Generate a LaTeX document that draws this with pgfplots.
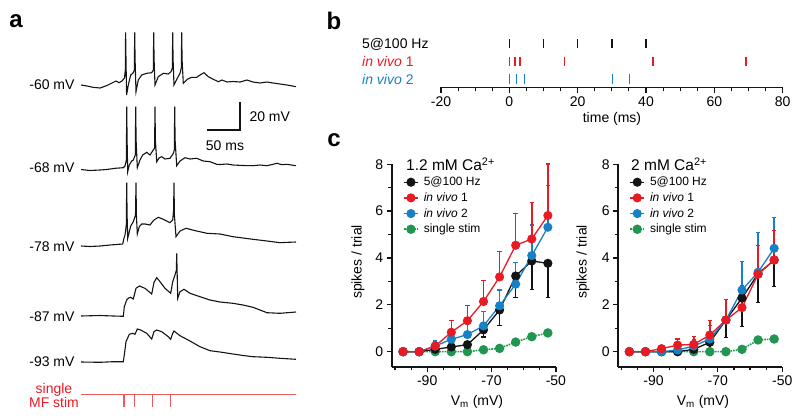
\documentclass[border=0pt]{standalone}
\usepackage{pgfplots}
\pgfplotsset{compat=1.18}
\usepackage{fontspec}
\setmainfont{Liberation Sans}
\definecolor{cred}{RGB}{232,26,36}
\definecolor{cblue}{RGB}{24,128,196}
\definecolor{cgreen}{RGB}{32,150,80}
\definecolor{cblk}{RGB}{20,20,20}
\definecolor{stimred}{RGB}{238,90,90}
\newcommand{\fA}{\fontsize{14bp}{16bp}\selectfont}
\newcommand{\fL}{\fontsize{12bp}{14bp}\selectfont}
\newcommand{\fT}{\fontsize{15.5bp}{17bp}\selectfont}
\newcommand{\fP}{\fontsize{24bp}{26bp}\selectfont\bfseries}
\pgfplotsset{
  cstyle/.style={scale only axis, width=164.1bp, height=202.7bp,
    xmin=-101, xmax=-50, ymin=-0.65, ymax=8,
    axis x line*=bottom, axis y line*=left,
    axis line style={-, line width=1.4bp, cblk},
    xtick={-90,-70,-50}, xticklabels={-90,-70,-50},
    minor xtick={-100,-95,-85,-80,-75,-65,-60,-55},
    ytick={0,2,4,6,8}, yticklabels={0,2,4,6,8}, minor ytick={1,3,5,7},
    tick align=outside, major tick length=5bp, minor tick length=3.5bp,
    tick style={line width=1.2bp, cblk},
    tick label style={font=\fA},
    clip=false,
    legend style={draw=none, fill=none, at={(axis description cs:0.068,0.947)}, anchor=north west,
      font=\fL, row sep=1.5bp, column sep=3bp, inner sep=0pt, cells={anchor=west}},
    legend image code/.code={\draw[mark repeat=2,mark phase=2,##1] plot coordinates {(0bp,0bp)(7bp,0bp)(14bp,0bp)};},
  },
  sblk/.style={cblk, line width=1.3bp, mark=*, mark size=3.9bp},
  sred/.style={cred, line width=1.3bp, mark=*, mark size=3.9bp},
  sblue/.style={cblue, line width=1.3bp, mark=*, mark size=3.9bp},
  sgreen/.style={cgreen, densely dotted, line width=1.6bp, mark=*, mark size=3.9bp, mark options={solid}},
  ebar/.style={error bars/.cd, y dir=#1, y explicit, error bar style={line width=1.6bp, solid}, error mark options={line width=1.3bp, mark size=2.2bp, rotate=90}},
}
\begin{document}
\begin{tikzpicture}[x=1bp,y=1bp]
\path[use as bounding box] (0bp,0bp) rectangle (800bp,420bp);
% ---------- frame axis: panel a traces and all annotations ----------
\begin{axis}[at={(0bp,0bp)}, anchor=south west, scale only axis, width=800bp, height=420bp,
  xmin=0, xmax=800, ymin=0, ymax=420, y dir=reverse, hide axis, clip=false]
\addplot[cblk, line width=1.1bp] coordinates {(81,85)(87,86)(93,87.3)(100,88)(107,85.5)(113,82.5)(116,81)(119,82.7)(122,81)(124.5,78)(125.3,70)(125.6,32.3)(126,60)(126.6,95)(128.3,85)(130.7,75)(133.3,72.7)(134.3,70)(134.7,32.3)(135.1,60)(136,91.7)(138.3,80)(141.7,75)(146.7,73.3)(151.7,72.7)(153.3,70)(153.7,32.3)(154.1,60)(155,85)(158.3,76.7)(163.3,73.3)(168.3,74)(171,71.7)(172.3,68)(172.7,32.3)(173.1,60)(174,85)(177.3,78.3)(180,73.3)(181.3,68)(181.7,32.3)(182.1,60)(183.3,83.3)(187.3,79.3)(191.7,77.3)(196.7,77.3)(200,75)(204,72.7)(208.3,76.7)(213.3,79.3)(218.3,81.7)(222,80)(227,82)(233,81.5)(240,82)(247,80)(253,82)(260,83)(267,82)(273,83)(280,84)(287,85)(296,86.7)};
\addplot[cblk, line width=1.1bp] coordinates {(81,169.5)(90,170.5)(100,170)(106.7,169.5)(115,168.3)(123.3,167.7)(125,166)(126.4,160)(126.7,106.7)(127.1,140)(127.7,171.7)(129.3,165)(131.7,161)(133.3,160)(135.3,155)(135.7,106.7)(136.1,140)(137.3,167.7)(140,160)(142.7,155)(146.7,152.3)(150,155)(153.3,150)(154.6,148)(155,106.7)(155.4,140)(156.7,161.7)(159.3,157.7)(161.7,156.7)(165,159)(170,158.3)(173.3,153.3)(174.3,150)(174.7,106.7)(175.1,140)(176.7,165.7)(180,161)(185,157.7)(190,159)(196.7,158.3)(203.3,161)(210,161.7)(216.7,164.3)(220,164.5)(227,164)(233,165)(243,165.5)(253,165.7)(260,165)(267,165.7)(273,164.3)(277,163.3)(282,164.7)(287,164.3)(296,165.7)};
\addplot[cblk, line width=1.1bp] coordinates {(81,246)(90,246.5)(100,246)(110,245)(122.7,244)(124,238)(125,235)(126.3,225)(126.7,182.7)(127.1,215)(127.7,238.3)(130.7,226)(133.3,221.7)(135.5,215)(136,182.7)(136.4,215)(137.3,234)(139.3,226.7)(141.7,224)(145,224)(150,225)(153.3,220.7)(155,219.3)(158.3,217.3)(163.3,219.3)(170,222.7)(172.7,220)(173.6,210)(174,182.7)(174.4,215)(176,236.7)(180,231)(186,228.3)(196.7,231)(207,233.3)(220,234)(233,236.7)(243,238)(253,239.3)(267,241)(280,242.7)(288,242.3)(296,242)};
\addplot[cblk, line width=1.1bp] coordinates {(81,316)(100,315.5)(113.3,316)(123.3,316.3)(124,310)(124.3,306.7)(126.7,300)(128.5,298)(130.7,297.3)(133.3,299)(136,288.3)(139.3,286)(145,288.3)(151.7,294)(154,282.3)(156.7,277.7)(160,281.7)(165,288.3)(170.7,293.3)(172.7,281.7)(175,275)(176.4,270)(176.7,253.3)(177.1,270)(177.7,298.3)(180,291.7)(184,289.3)(190,293.3)(200,296.7)(210,300)(220,302)(233,303.3)(243,305)(253,307.3)(260,310)(267,312.7)(280,313.3)(296,312)};
\addplot[cblk, line width=1.1bp] coordinates {(81,362)(100,362.3)(113.3,361.7)(123.3,361.7)(124.3,355)(126,341.7)(129.3,334.3)(132.7,333.3)(135,334.3)(137.3,329)(140.7,330)(146.7,333.3)(151.7,339)(154,331.7)(156.7,330)(161.7,331.7)(168.3,336.7)(170.7,339.3)(172.7,333.3)(174,331)(180,335.7)(190,341)(200,346.7)(210,350.7)(220,352)(233,354)(243,355.5)(253,356.7)(267,357.3)(280,358.3)(296,359.3)};
% stimulus line
\addplot[stimred, line width=0.9bp] coordinates {(81,394.5)(296,394.5)};
\addplot[stimred, line width=0.9bp] coordinates {(123.6,394.5)(123.6,407)};
\addplot[stimred, line width=0.9bp] coordinates {(124.8,394.5)(124.8,407)};
\addplot[stimred, line width=0.9bp] coordinates {(134.2,394.5)(134.2,407)};
\addplot[stimred, line width=0.9bp] coordinates {(152.3,394.5)(152.3,407)};
\addplot[stimred, line width=0.9bp] coordinates {(170.8,394.5)(170.8,407)};
% scale bar
\addplot[cblk, line width=1.2bp] coordinates {(207,130)(240,130)(240,102)};
\node[anchor=west, font=\fA] at (246,117) {20 mV};
\node[font=\fA] at (225,146) {50 ms};
% panel a labels
\node[anchor=east, font=\fA] at (78,85) {-60 mV};
\node[anchor=east, font=\fA] at (78,168) {-68 mV};
\node[anchor=east, font=\fA] at (78,246.5) {-78 mV};
\node[anchor=east, font=\fA] at (78,317) {-87 mV};
\node[anchor=east, font=\fA] at (78,362) {-93 mV};
\node[font=\fA, text=cred, align=center, inner sep=0pt] at (54,395.5) {single\\[-1.5bp]MF stim};
% panel letters
\node[font=\fP] at (16,21) {a};
\node[font=\fP] at (334,21) {b};
\node[font=\fP] at (334,140) {c};
% panel b labels
\node[anchor=west, font=\fA, inner sep=0pt] at (362,44) {5@100 Hz};
\node[anchor=west, font=\fA, inner sep=0pt, text=cred] at (362,61.5) {\textit{in vivo} 1};
\node[anchor=west, font=\fA, inner sep=0pt, text=cblue] at (362,79) {\textit{in vivo} 2};
\node[font=\fA] at (612,119) {time (ms)};
% panel c labels
\node[anchor=west, font=\fT, inner sep=0pt] at (406,164) {1.2 mM Ca\textsuperscript{2+}};
\node[anchor=west, font=\fT, inner sep=0pt] at (631,164) {2 mM Ca\textsuperscript{2+}};
\node[rotate=90, font=\fA] at (358,262) {spikes / trial};
\node[rotate=90, font=\fA] at (583,262) {spikes / trial};
\node[font=\fA] at (477,402) {V\textsubscript{m} (mV)};
\node[font=\fA] at (703,402) {V\textsubscript{m} (mV)};
\end{axis}
% ---------- panel b ----------
\begin{axis}[at={(441bp,332.7bp)}, anchor=south west, scale only axis, width=341.7bp, height=50bp,
  xmin=-20, xmax=80, ymin=0, ymax=50, axis x line=bottom, axis y line=none,
  axis line style={-, line width=1.3bp, cblk},
  xtick={-20,0,20,40,60,80}, xticklabels={-20,0,20,40,60,80}, minor x tick num=3,
  tick align=outside, major tick length=6bp, minor tick length=4bp,
  tick style={line width=1.1bp, cblk}, tick label style={font=\fA}, clip=false]
\addplot[only marks, mark=|, mark size=4.6bp, cblk, mark options={line width=1.4bp}] coordinates {(0,43.5)(10,43.5)(20,43.5)(30,43.5)(40,43.5)};
\addplot[only marks, mark=|, mark size=4.6bp, cred, mark options={line width=1.4bp}] coordinates {(0,26)(1.6,26)(3.1,26)(16.2,26)(42,26)(69.3,26)};
\addplot[only marks, mark=|, mark size=5bp, cblue, mark options={line width=1.4bp}] coordinates {(0,8.5)(2.1,8.5)(4.5,8.5)(30.2,8.5)(35.1,8.5)};
\end{axis}
% ---------- panel c left ----------
\begin{axis}[cstyle, at={(391.8bp,53.1bp)}, anchor=south west]
\addlegendimage{sblk}\addlegendentry{5@100 Hz}
\addlegendimage{sred}\addlegendentry{\textit{in vivo} 1}
\addlegendimage{sblue}\addlegendentry{\textit{in vivo} 2}
\addlegendimage{sgreen}\addlegendentry{single stim}
\addplot[sgreen, forget plot] table {
x y
-97.5 0
-92.5 0
-87.5 0
-82.5 0
-77.5 0
-72.5 0.08
-67.5 0.14
-62.5 0.41
-57.5 0.64
-52.5 0.8
};
\addplot[sblk, forget plot, ebar=minus] table[x index=0, y index=1, y error index=2] {
x y e
-97.5 0 0
-92.5 0 0
-87.5 0.1 0
-82.5 0.2 0
-77.5 0.3 0
-72.5 0.93 0.3
-67.5 1.78 0.66
-62.5 3.23 0.91
-57.5 3.87 1.21
-52.5 3.77 1.45
};
\addplot[sblue, forget plot, ebar=plus] table[x index=0, y index=1, y error index=2] {
x y e
-97.5 0 0
-92.5 0 0
-87.5 0.24 0.22
-82.5 0.53 0.1
-77.5 0.73 0.47
-72.5 1.1 0.61
-67.5 1.96 0.67
-62.5 2.88 0.94
-57.5 4.1 1.3
-52.5 5.31 1.79
};
\addplot[sred, forget plot, ebar=plus] table[x index=0, y index=1, y error index=2] {
x y e
-97.5 0 0
-92.5 0 0
-87.5 0.24 0.1
-82.5 0.83 0.49
-77.5 1.32 0.64
-72.5 2.14 0.89
-67.5 3.19 1.08
-62.5 4.54 1.37
-57.5 4.81 1.55
-52.5 5.81 2.2
};
\end{axis}
% ---------- panel c right ----------
\begin{axis}[cstyle, at={(618.1bp,53.1bp)}, anchor=south west]
\addlegendimage{sblk}\addlegendentry{5@100 Hz}
\addlegendimage{sred}\addlegendentry{\textit{in vivo} 1}
\addlegendimage{sblue}\addlegendentry{\textit{in vivo} 2}
\addlegendimage{sgreen}\addlegendentry{single stim}
\addplot[sgreen, forget plot] table {
x y
-97.5 0
-92.5 0
-87.5 0
-82.5 0
-77.5 0
-72.5 0
-67.5 0
-62.5 0.1
-57.5 0.5
-52.5 0.54
};
\addplot[sblk, forget plot, ebar=minus] table[x index=0, y index=1, y error index=2] {
x y e
-97.5 0 0
-92.5 0 0
-87.5 0 0
-82.5 0 0
-77.5 0.1 0
-72.5 0.4 0.55
-67.5 1.35 0.74
-62.5 2.29 1.22
-57.5 3.32 1.22
-52.5 3.91 1.13
};
\addplot[sblue, forget plot, ebar=plus] table[x index=0, y index=1, y error index=2] {
x y e
-97.5 0 0
-92.5 0 0
-87.5 0 0
-82.5 0.07 0
-77.5 0.24 0.26
-72.5 0.54 0.58
-67.5 1.35 0
-62.5 2.63 1.21
-57.5 3.39 1.71
-52.5 4.41 1.31
};
\addplot[sred, forget plot, ebar=plus] table[x index=0, y index=1, y error index=2] {
x y e
-97.5 0 0
-92.5 0 0
-87.5 0.13 0
-82.5 0.28 0.26
-77.5 0.31 0.33
-72.5 0.71 0.61
-67.5 1.35 0.88
-62.5 1.88 0.95
-57.5 3.3 1.23
-52.5 3.91 1.27
};
\end{axis}
\end{tikzpicture}
\end{document}
